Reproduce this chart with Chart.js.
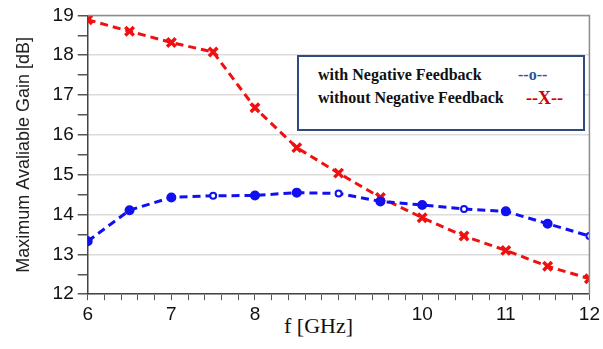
<!DOCTYPE html>
<html lang="en">
<head>
    <meta charset="UTF-8">
    <title>Maximum Available Gain</title>
    <script src="https://cdn.jsdelivr.net/npm/chart.js"></script>
    <style>
        body {
            margin: 0;
            background: #fff;
        }
        .wrap {
            position: relative;
            width: 603px;
            height: 349px;
        }
        .legend {
            position: absolute;
            left: 297px;
            top: 55px;
            width: 284px;
            height: 72px;
            border: 2px solid #2f4b7c;
            background: #fff;
            font-family: "Liberation Serif", serif;
            font-weight: bold;
            font-size: 16px;
            color: #111;
        }
        .legend div {
            position: absolute;
            white-space: nowrap;
        }
        .xtitle {
            position: absolute;
            left: 282px;
            top: 313px;
            font-family: "Liberation Serif", serif;
            font-size: 22px;
            color: #111;
            background: #fff;
            padding: 0 2px;
        }
    </style>
</head>
<body>

<div class="wrap">
    <canvas id="gainChart" width="603" height="349"></canvas>
    <div class="legend">
        <div style="left:19px; top:9px;">with Negative Feedback</div>
        <div style="left:219px; top:9px; color:#2f5597;">--o--</div>
        <div style="left:19px; top:32px;">without Negative Feedback</div>
        <div style="left:227px; top:31px; color:#d00000; font-size:18px;">--X--</div>
    </div>
    <div class="xtitle">f [GHz]</div>
</div>

<script>
    const freqs = [6, 6.5, 7, 7.5, 8, 8.5, 9, 9.5, 10, 10.5, 11, 11.5, 12];
    const withFeedback = [13.33, 14.11, 14.43, 14.47, 14.48, 14.55, 14.53, 14.33, 14.24, 14.14, 14.08, 13.77, 13.46];
    const withoutFeedback = [18.89, 18.6, 18.32, 18.08, 16.68, 15.68, 15.04, 14.43, 13.92, 13.46, 13.1, 12.7, 12.39];
    const hiddenXLabels = [9];

    // a few blue markers are drawn hollow in the original
    const hollowBlue = [7.5, 9, 10.5, 12];

    const isInt = v => Math.abs(v - Math.round(v)) < 1e-6;

    const framePlugin = {
        id: 'frame',
        afterDatasetsDraw(chart) {
            const a = chart.chartArea;
            const ctx = chart.ctx;
            ctx.save();
            ctx.strokeStyle = '#8c8c8c';
            ctx.lineWidth = 1.5;
            ctx.beginPath();
            ctx.moveTo(a.left, a.top);
            ctx.lineTo(a.right, a.top);
            ctx.lineTo(a.right, a.bottom);
            ctx.stroke();
            ctx.restore();
        }
    };

    const ctx = document.getElementById('gainChart').getContext('2d');

    new Chart(ctx, {
        type: 'line',
        data: {
            datasets: [{
                label: 'with Negative Feedback',
                data: freqs.map((f, i) => ({ x: f, y: withFeedback[i] })),
                borderColor: '#1010f0',
                borderWidth: 3,
                borderDash: [8, 5],
                pointStyle: 'circle',
                pointRadius: freqs.map(f => hollowBlue.includes(f) ? 3 : 4),
                pointBorderWidth: 2,
                pointBorderColor: '#1010f0',
                pointBackgroundColor: freqs.map(f => hollowBlue.includes(f) ? '#ffffff' : '#1010f0'),
                fill: false,
                tension: 0
            }, {
                label: 'without Negative Feedback',
                data: freqs.map((f, i) => ({ x: f, y: withoutFeedback[i] })),
                borderColor: '#f01010',
                borderWidth: 3,
                borderDash: [8, 5],
                pointStyle: 'crossRot',
                pointRadius: 6,
                pointBorderWidth: 3.5,
                pointBorderColor: '#f01010',
                fill: false,
                tension: 0
            }]
        },
        options: {
            responsive: false,
            animation: false,
            layout: {
                padding: { top: 2, right: 4, bottom: 20, left: 13 }
            },
            plugins: {
                legend: { display: false },
                tooltip: { enabled: false }
            },
            scales: {
                x: {
                    type: 'linear',
                    min: 6,
                    max: 12,
                    ticks: {
                        stepSize: 0.2,
                        autoSkip: false,
                        maxRotation: 0,
                        padding: 3,
                        color: '#111',
                        font: { family: 'Liberation Sans', size: 19 },
                        callback: v => (isInt(v) && !hiddenXLabels.includes(Math.round(v))) ? String(Math.round(v)) : ''
                    },
                    grid: {
                        drawOnChartArea: false,
                        tickLength: 6,
                        tickColor: '#555'
                    },
                    border: { color: '#444', width: 1.5 }
                },
                y: {
                    min: 12,
                    max: 19,
                    ticks: {
                        stepSize: 0.5,
                        autoSkip: false,
                        padding: 4,
                        color: '#111',
                        font: { family: 'Liberation Sans', size: 19 },
                        callback: v => isInt(v) ? String(Math.round(v)) : ''
                    },
                    grid: {
                        color: c => isInt(c.tick.value) ? '#dcdcdc' : 'rgba(0,0,0,0)',
                        lineWidth: 1.5,
                        tickLength: 10,
                        tickColor: '#555'
                    },
                    border: { color: '#444', width: 1.5 },
                    title: {
                        display: true,
                        text: 'Maximum Avaliable Gain [dB]',
                        color: '#222',
                        font: { family: 'Liberation Sans', size: 18 },
                        padding: { top: 0, bottom: 14 }
                    }
                }
            }
        },
        plugins: [framePlugin]
    });
</script>

</body>
</html>
